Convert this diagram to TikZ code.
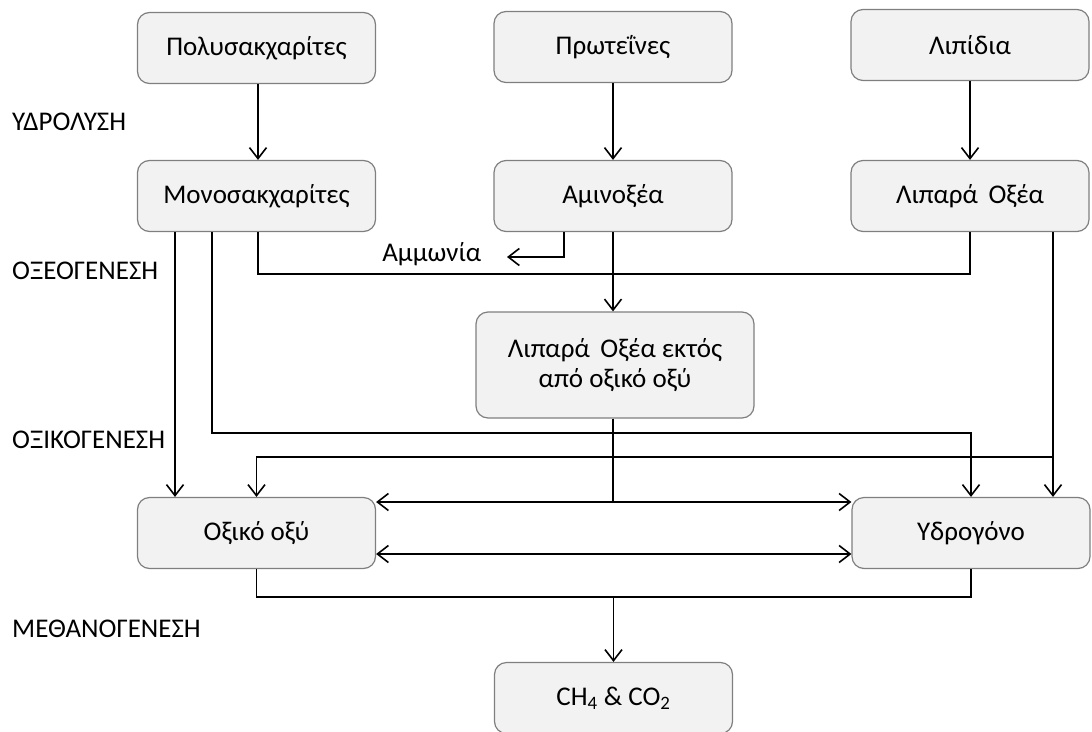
\documentclass[tikz,border=0pt]{standalone}
\usepackage{fontspec}
\setmainfont{Carlito}
\usetikzlibrary{arrows.meta,calc}
\definecolor{boxfill}{HTML}{F2F2F2}
\definecolor{boxline}{HTML}{7F7F7F}
\tikzset{
  stagebox/.style={draw=boxline, line width=1.2pt, fill=boxfill, rounded corners=12pt,
    minimum width=238pt, minimum height=71pt, inner sep=0pt, font=\fontsize{27}{32}\selectfont, align=center},
  stagelabel/.style={anchor=west, inner sep=0pt, font=\fontsize{27}{32}\selectfont},
  flow/.style={line width=1.6pt, black},
  arr/.style={flow, -{Straight Barb[length=11pt,width=17pt,line width=1.6pt]}},
  darr/.style={flow, {Straight Barb[length=11pt,width=17pt,line width=1.6pt]}-{Straight Barb[length=11pt,width=17pt,line width=1.6pt]}},
}
\begin{document}
\begin{tikzpicture}[x=1pt,y=-1pt]
\useasboundingbox (0,0) rectangle (1092,731);
% boxes
\node[stagebox] (poly) at (256.5,48) {Πολυσακχαρίτες};
\node[stagebox] (prot) at (613,47) {Πρωτεΐνες};
\node[stagebox] (lip) at (970,45) {Λιπίδια};
\node[stagebox] (mono) at (256.5,196) {Μονοσακχαρίτες};
\node[stagebox] (amino) at (613,196) {Αμινοξέα};
\node[stagebox] (lipox) at (970,196) {Λιπαρά\, Οξέα};
\node[stagebox, minimum width=278pt, minimum height=106pt] (lipar) at (615,365) {Λιπαρά\, Οξέα εκτός\\[-2pt]από οξικό οξύ};
\node[stagebox] (oxiko) at (256.5,533) {Οξικό οξύ};
\node[stagebox] (hydro) at (971,533) {Υδρογόνο};
\node[stagebox] (ch4) at (613.5,698) {CH\textsubscript{4} \& CO\textsubscript{2}};
% stage labels
\node[stagelabel] (l1) at (12,122) {ΥΔΡΟΛΥΣΗ};
\node[stagelabel] (l2) at (12,271) {ΟΞΕΟΓΕΝΕΣΗ};
\node[stagelabel] (l3) at (12,440) {ΟΞΙΚΟΓΕΝΕΣΗ};
\node[stagelabel] (l4) at (12,629) {ΜΕΘΑΝΟΓΕΝΕΣΗ};
% helper coordinates
\coordinate (xa) at (175,0);
\coordinate (xb) at (212,0);
\coordinate (xc) at (258,0);
\coordinate (xd) at (564,0);
\coordinate (xe) at (507,0);
\coordinate (xf) at (1053,0);
\coordinate (ya) at (0,257);
\coordinate (yb) at (0,274);
\coordinate (yc) at (0,433);
\coordinate (yd) at (0,457);
\coordinate (ye) at (0,502);
\coordinate (yf) at (0,554);
\coordinate (yg) at (0,597);
% hydrolysis
\draw[arr] (poly.south -| xc) -- (mono.north -| xc);
\draw[arr] (prot) -- (amino);
\draw[arr] (lip) -- (lipox);
% ammonia
\draw[arr] (amino.south -| xd) -- (xd |- ya) -- (xe |- ya) node[left=25pt, font=\fontsize{27}{32}\selectfont, inner sep=0pt, yshift=3pt] (amm) {Αμμωνία};
% acidogenesis
\draw[flow] (mono.south -| xc) -- (xc |- yb) -- (lipox.south |- yb) -- (lipox.south);
\draw[arr] (amino.south) -- (lipar.north -| amino.south);
% to acetic / hydrogen
\draw[arr] (mono.south -| xa) -- (oxiko.north -| xa);
\draw[arr] (mono.south -| xb) -- (xb |- yc) -- (hydro.north |- yc) -- (hydro.north);
\draw[arr] (lipox.south -| xf) -- (hydro.north -| xf);
\draw[arr] (xf |- yd) -- (oxiko.north |- yd) -- (oxiko.north);
\draw[flow] (lipar.south -| amino.south) -- (amino.south |- ye);
\draw[darr] (oxiko.east |- ye) -- (hydro.west |- ye);
\draw[darr] (oxiko.east |- yf) -- (hydro.west |- yf);
% methanogenesis
\draw[flow] (oxiko.south) -- (oxiko.south |- yg) -- (hydro.south |- yg) -- (hydro.south);
\draw[arr] (ch4.north |- yg) -- (ch4.north);
\end{tikzpicture}
\end{document}
